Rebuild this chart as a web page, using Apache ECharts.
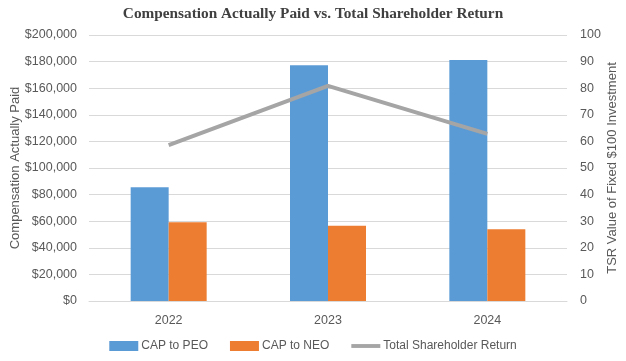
<!DOCTYPE html>
<html><head><meta charset="utf-8">
<script src="https://cdn.jsdelivr.net/npm/echarts@6/dist/echarts.min.js"></script>
<style>html,body{margin:0;padding:0;background:#fff}#c{width:626px;height:361px}</style>
</head><body><div id="c"></div>
<script>
var categories = ['2022', '2023', '2024'];
var capPEO = [85500, 177200, 181200];
var capNEO = [59200, 56600, 53900];
var tsr = [58.6, 80.9, 62.8];
var leftTicks = { min: 0, max: 200000, interval: 20000 };
var rightTicks = { min: 0, max: 100, interval: 10 };

var font = 'Liberation Sans';
var chart = echarts.init(document.getElementById('c'));
chart.setOption({
  animation: false,
  textStyle: { fontFamily: font },
  title: {
    text: 'Compensation Actually Paid vs. Total Shareholder Return',
    left: 'center', top: 2,
    textStyle: { fontFamily: 'Liberation Serif', fontWeight: 'bold', fontSize: 15.3, color: '#404040' }
  },
  grid: { left: 89, right: 59, top: 35, bottom: 60, containLabel: false, outerBoundsMode: 'none' },
  legend: {
    bottom: 4, left: 'center', itemGap: 22, itemWidth: 29, itemHeight: 10,
    textStyle: { fontFamily: font, fontSize: 12, color: '#595959', padding: [0, 0, 0, -2] },
    data: [
      { name: 'CAP to PEO', icon: 'rect' },
      { name: 'CAP to NEO', icon: 'rect' },
      { name: 'Total Shareholder Return', icon: 'path://M0,0 L30,0 L30,4 L0,4 Z',
        itemStyle: { color: '#A5A5A5' } }
    ]
  },
  xAxis: {
    type: 'category', data: categories,
    axisLine: { lineStyle: { color: '#D9D9D9' } },
    axisTick: { show: false },
    axisLabel: { color: '#595959', fontSize: 12.5, margin: 13 }
  },
  yAxis: [
    {
      type: 'value', min: leftTicks.min, max: leftTicks.max, interval: leftTicks.interval,
      name: 'Compensation Actually Paid', nameLocation: 'middle', nameGap: 67, nameRotate: 90,
      nameMoveOverlap: false,
      nameTextStyle: { color: '#595959', fontSize: 13 },
      axisLabel: { color: '#595959', fontSize: 12.5, margin: 12,
        formatter: function (v) { return '$' + v.toLocaleString('en-US'); } },
      splitLine: { lineStyle: { color: '#D9D9D9' } },
      axisLine: { show: false }, axisTick: { show: false }
    },
    {
      type: 'value', min: rightTicks.min, max: rightTicks.max, interval: rightTicks.interval,
      name: 'TSR Value of Fixed $100 Investment', nameLocation: 'middle', nameGap: 39, nameRotate: 90,
      nameMoveOverlap: false,
      nameTextStyle: { color: '#595959', fontSize: 13 },
      axisLabel: { color: '#595959', fontSize: 12.5, margin: 13 },
      splitLine: { show: false },
      axisLine: { show: false }, axisTick: { show: false }
    }
  ],
  series: [
    { name: 'CAP to PEO', type: 'bar', data: capPEO, barWidth: 38, barGap: '0%',
      itemStyle: { color: '#5B9BD5' } },
    { name: 'CAP to NEO', type: 'bar', data: capNEO, barWidth: 38, barGap: '0%',
      itemStyle: { color: '#ED7D31' } },
    { name: 'Total Shareholder Return', type: 'line', yAxisIndex: 1, data: tsr,
      symbol: 'none', lineStyle: { color: '#A5A5A5', width: 4 }, itemStyle: { color: '#A5A5A5' } }
  ]
});
</script></body></html>
